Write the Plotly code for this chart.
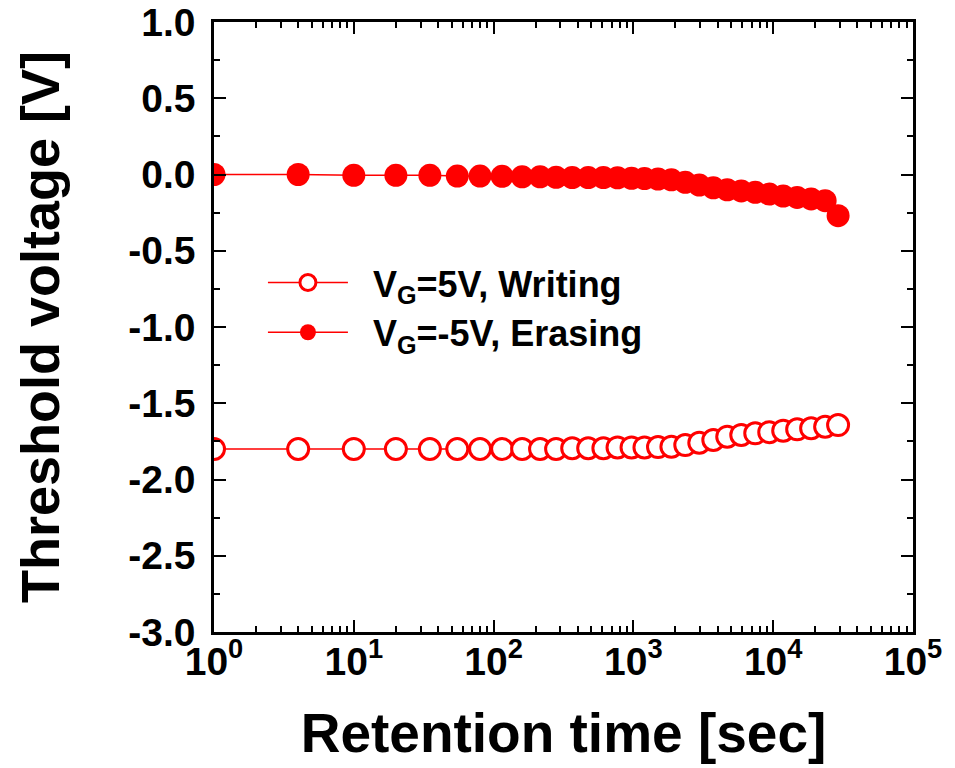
import plotly.graph_objects as go

# Retention time [sec]
time_s = [1, 4, 10, 20, 35, 55, 80, 115, 160, 215, 280, 365, 475, 610, 770, 970,
          1200, 1500, 1870, 2350, 2960, 3730, 4690, 5910, 7440, 9370, 11790,
          14840, 18680, 23520, 29120]

# Threshold voltage [V]
writing_vth = [-1.80, -1.80, -1.80, -1.80, -1.80, -1.80, -1.80, -1.80, -1.80, -1.80,
               -1.80, -1.795, -1.795, -1.795, -1.79, -1.79, -1.79, -1.787, -1.785,
               -1.774, -1.759, -1.741, -1.719, -1.708, -1.697, -1.690, -1.680,
               -1.671, -1.664, -1.654, -1.643]
erasing_vth = [0.0, 0.0, -0.005, -0.005, -0.005, -0.01, -0.01, -0.012, -0.015, -0.015,
               -0.018, -0.02, -0.02, -0.02, -0.022, -0.025, -0.027, -0.03, -0.035,
               -0.051, -0.069, -0.087, -0.10, -0.108, -0.117, -0.128, -0.141,
               -0.15, -0.16, -0.172, -0.27]

writing_name = "&nbsp;&nbsp;V<sub>G</sub>=5V, Writing"
erasing_name = "&nbsp;&nbsp;V<sub>G</sub>=-5V, Erasing"

x_tickvals = [1, 10, 100, 1000, 10000, 100000]
x_ticktext = ["10<sup>0</sup>", "10<sup>1</sup>", "10<sup>2</sup>",
              "10<sup>3</sup>", "10<sup>4</sup>", "10<sup>5</sup>"]
x_minor = [m * d for d in [1, 10, 100, 1000, 10000] for m in range(2, 10)]

y_tickvals = [1.0, 0.5, 0.0, -0.5, -1.0, -1.5, -2.0, -2.5, -3.0]
y_ticktext = ["1.0", "0.5", "0.0", "-0.5", "-1.0", "-1.5", "-2.0", "-2.5", "-3.0"]

RED = "#ff0000"
FONT = "Liberation Sans, Arial, sans-serif"

fig = go.Figure()
fig.add_trace(go.Scatter(
    x=time_s, y=writing_vth, name=writing_name, mode="lines+markers",
    line=dict(color=RED, width=1.5),
    marker=dict(symbol="circle", size=21, color="white",
                line=dict(color=RED, width=3)),
))
fig.add_trace(go.Scatter(
    x=time_s, y=erasing_vth, name=erasing_name, mode="lines+markers",
    line=dict(color=RED, width=1.5),
    marker=dict(symbol="circle", size=23, color=RED,
                line=dict(color=RED, width=0)),
))

axis_common = dict(
    showline=True, linecolor="black", linewidth=2.5, mirror="allticks",
    ticks="inside", ticklen=12, tickwidth=2, tickcolor="black",
    showgrid=False, zeroline=False, automargin=False,
    ticklabeloverflow="allow",
    tickfont=dict(family=FONT, size=39, color="black", weight="bold"),
)

fig.update_xaxes(
    type="log", range=[0, 5],
    tickmode="array", tickvals=x_tickvals, ticktext=x_ticktext,
    minor=dict(tickmode="array", tickvals=x_minor, ticks="inside",
               ticklen=6, tickwidth=2, tickcolor="black", showgrid=False),
    title=dict(text="Retention time [sec]", standoff=32,
               font=dict(family=FONT, size=55, color="black", weight="bold")),
    ticklabelstandoff=-7,
    **axis_common,
)
fig.update_yaxes(
    range=[-3, 1],
    tickmode="array", tickvals=y_tickvals, ticktext=y_ticktext,
    minor=dict(dtick=0.25, ticks="inside", ticklen=6, tickwidth=2,
               tickcolor="black", showgrid=False),
    title=dict(text="Threshold voltage [V]", standoff=52,
               font=dict(family=FONT, size=54, color="black", weight="bold")),
    ticklabelstandoff=8,
    **axis_common,
)

fig.update_layout(
    width=955, height=768,
    margin=dict(l=206, r=50, t=14, b=144),
    paper_bgcolor="white", plot_bgcolor="white",
    showlegend=True,
    legend=dict(
        x=0.07, y=0.622, xanchor="left", yanchor="top",
        bgcolor="rgba(0,0,0,0)", borderwidth=0,
        font=dict(family=FONT, size=36, color="black", weight="bold"),
        itemwidth=80,
    ),
)

fig.write_html("out.html")
